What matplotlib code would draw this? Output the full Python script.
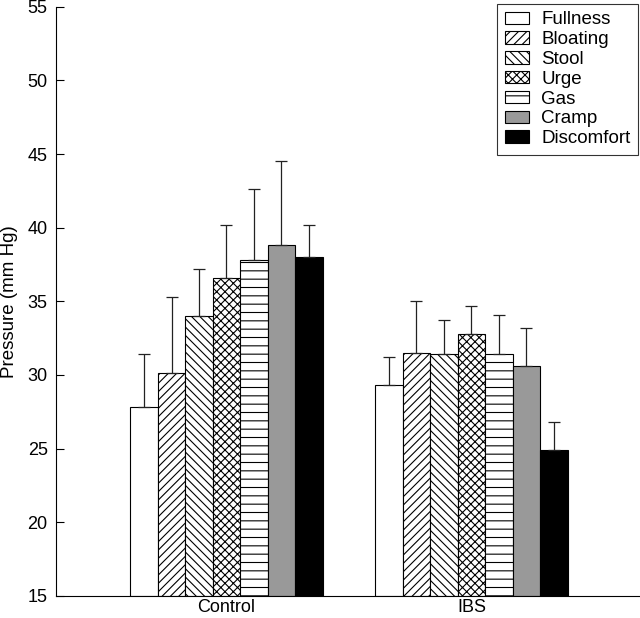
import numpy as np
import matplotlib.pyplot as plt

plt.rcParams['font.family'] = ['Liberation Sans', 'DejaVu Sans']
plt.rcParams['hatch.linewidth'] = 0.8

groups = ["Control", "IBS"]
symptoms = ["Fullness", "Bloating", "Stool", "Urge", "Gas", "Cramp", "Discomfort"]

# mean pressure per symptom, one list per group
control = [27.8, 30.1, 34.0, 36.6, 37.8, 38.8, 38.0]
ibs = [29.3, 31.5, 31.4, 32.8, 31.4, 30.6, 24.9]
# upper error (SEM)
control_err = [3.6, 5.2, 3.2, 3.6, 4.8, 5.7, 2.2]
ibs_err = [1.9, 3.5, 2.3, 1.9, 2.7, 2.6, 1.9]

facecols = ["white", "white", "white", "white", "white", "#999999", "black"]
hatches = ["", "////", "\\\\\\\\", "xxxx", "--", "", ""]

fig = plt.figure(figsize=(6.4, 6.18), dpi=100)
ax = fig.add_axes([0.0875, 0.036, 0.9125, 0.953])

w = 0.1122
x = np.arange(len(groups))
for i, name in enumerate(symptoms):
    vals = [control[i], ibs[i]]
    errs = [control_err[i], ibs_err[i]]
    pos = x + (i - 3) * w
    ax.bar(pos, np.array(vals) - 15, w, bottom=15, color=facecols[i],
           edgecolor="black", hatch=hatches[i], linewidth=0.8, label=name)
    ax.errorbar(pos, vals, yerr=[np.zeros(2), errs], fmt="none",
                ecolor="#222222", elinewidth=0.9, capsize=4, capthick=0.9)

ax.set_xlim(-0.696, 1.688)
ax.set_ylim(15, 55)
ax.set_yticks(range(15, 56, 5))
ax.set_xticks(x)
ax.set_xticklabels(groups, fontsize=13)
ax.tick_params(axis="x", length=0, pad=2)
ax.tick_params(axis="y", direction="in", length=6, labelsize=13, pad=6)
ax.spines["top"].set_visible(False)
ax.spines["right"].set_visible(False)
ax.set_ylabel("Pressure (mm Hg)", fontsize=13.5, labelpad=7)

leg = ax.legend(loc="upper right", bbox_to_anchor=(0.9966, 1.005), fontsize=13.5,
                frameon=True, fancybox=False, edgecolor="black",
                handlelength=1.3, handleheight=0.65, handletextpad=0.65,
                labelspacing=0.15, borderpad=0.4, borderaxespad=0.0)
leg.get_frame().set_linewidth(0.8)

fig.savefig("out.png", dpi=100)
